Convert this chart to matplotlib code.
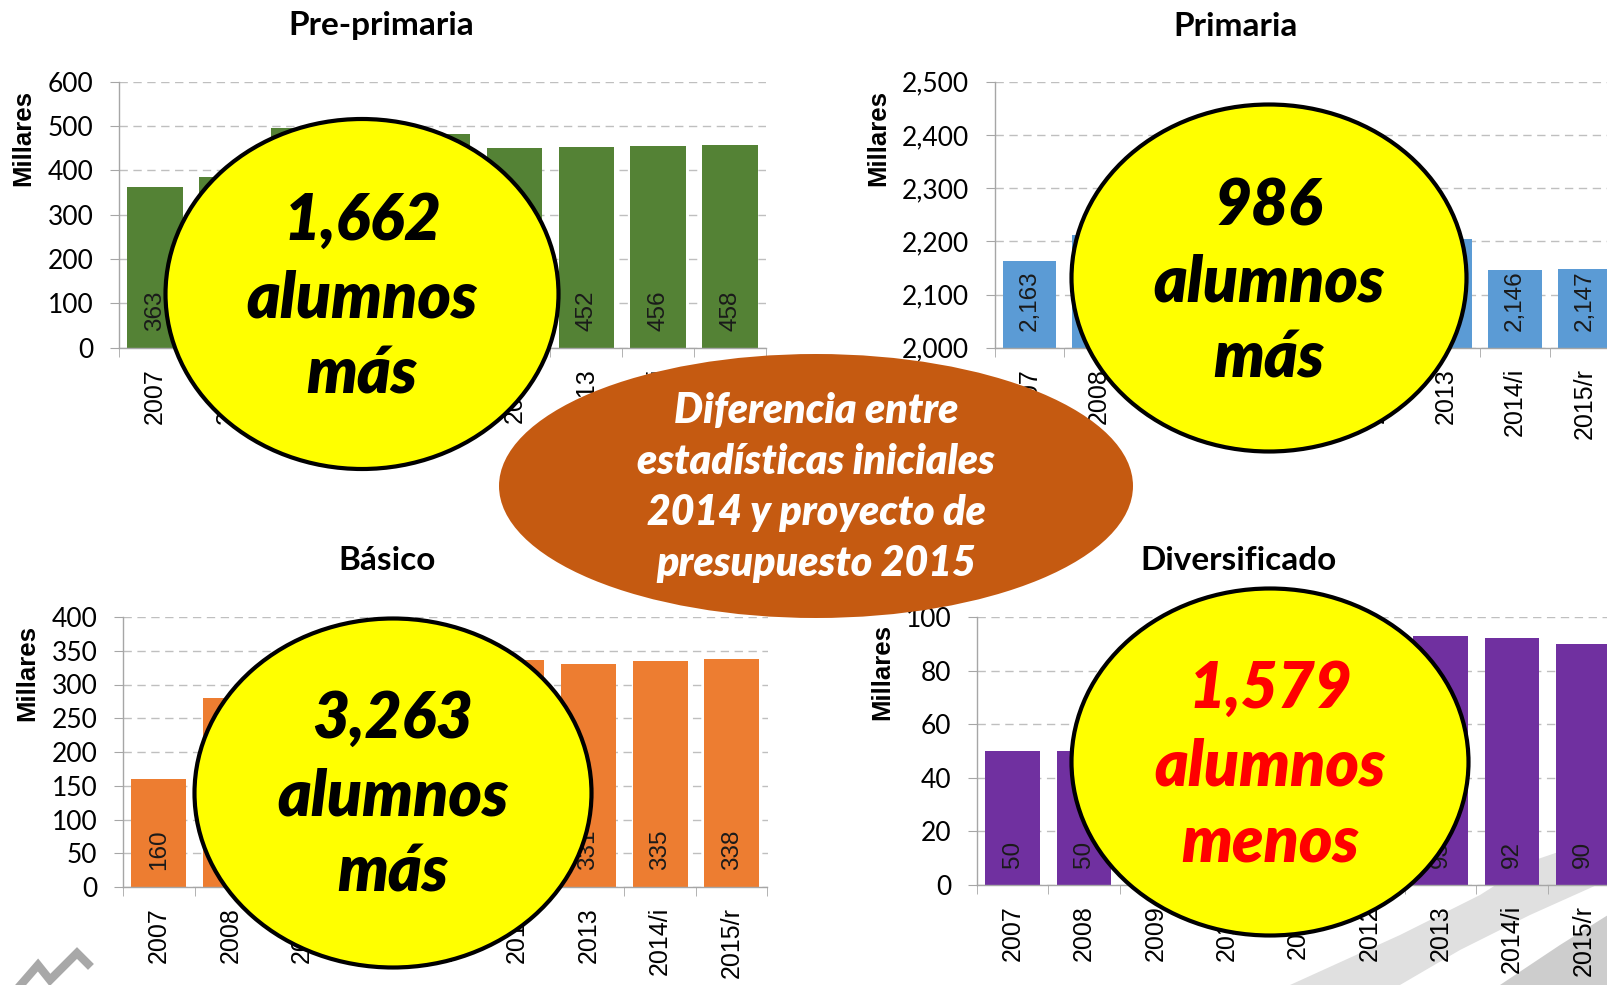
import matplotlib
matplotlib.use('Agg')
import matplotlib.pyplot as plt
from matplotlib.patches import Ellipse, Polygon
from matplotlib.lines import Line2D
from matplotlib.ticker import FuncFormatter, MultipleLocator
import matplotlib.transforms as mtransforms
import numpy as np

W, H = 1608, 985

years = ['2007', '2008', '2009', '2010', '2011', '2012', '2013', '2014/i', '2015/r']

# miles de alumnos
preprimaria = [363, 385, 496, 490, 481, 450, 452, 456, 458]
primaria = [2163, 2211, 2250, 2270, 2280, 2240, 2205, 2146, 2147]
basico = [160, 280, 300, 320, 330, 336, 331, 335, 338]
diversificado = [50, 50, 60, 70, 80, 88, 93, 92, 90]

titles = ['Pre-primaria', 'Primaria', 'Básico', 'Diversificado']
colors = ['#548235', '#5B9BD5', '#ED7D31', '#7030A0']
diferencias = ['1,662', '986', '3,263', '1,579']
sentido = ['más', 'más', 'más', 'menos']
centro = ['Diferencia entre', 'estadísticas iniciales', '2014 y proyecto de', 'presupuesto 2015']


def fx(x):
    return x / W


def fy(y):
    return 1 - y / H


fig = plt.figure(figsize=(W / 100, H / 100), dpi=100)

# left, top, right, bottom in pixels
boxes = [(119, 81.7, 766, 347.7), (995, 81.7, 1619, 347.7),
         (123, 617, 767.5, 887), (977, 617, 1619, 885)]
ylims = [(0, 600, 100), (2000, 2500, 100), (0, 400, 50), (0, 100, 20)]
series = [preprimaria, primaria, basico, diversificado]
title_pos = [(381, 26), (1236, 26), (387, 560), (1239, 560)]
ylab_pos = [(23, 138), (878, 138), (27, 673), (882, 672)]

for k in range(4):
    l, t, r, b = boxes[k]
    ax = fig.add_axes([fx(l), fy(b), (r - l) / W, (b - t) / H])
    ax.set_facecolor('none')
    vals = series[k]
    x = np.arange(len(years))
    ax.bar(x, vals, width=0.77, color=colors[k], zorder=2)
    lo, hi, step = ylims[k]
    ax.set_ylim(lo, hi)
    ax.set_xlim(-0.5, len(years) - 0.5)
    ax.yaxis.set_major_locator(MultipleLocator(step))
    ax.yaxis.set_major_formatter(FuncFormatter(lambda v, p: f'{v:,.0f}'))
    ax.yaxis.grid(True, linestyle=(0, (6, 4)), color='#BFBFBF', lw=1)
    ax.set_axisbelow(True)
    for s in ['top', 'right']:
        ax.spines[s].set_visible(False)
    for s in ['left', 'bottom']:
        ax.spines[s].set_color('#A6A6A6')
        ax.spines[s].set_linewidth(1)
    ax.set_xticks(x)
    ax.set_xticklabels(years, rotation=90, fontsize=18, family='Liberation Sans')
    ax.set_xticks(np.arange(-0.5, len(years)), minor=True)
    ax.tick_params(axis='x', which='major', length=0, pad=14.5)
    ax.tick_params(axis='x', which='minor', length=6.5, color='#A6A6A6')
    ax.tick_params(axis='y', length=6.5, color='#A6A6A6', pad=12)
    for lab in ax.get_yticklabels():
        lab.set_fontfamily('Lato')
        lab.set_fontsize(19)
    trans = mtransforms.blended_transform_factory(ax.transData, ax.transAxes)
    for i, v in enumerate(vals):
        ax.annotate(f'{v:,}', xy=(i, 0), xycoords=trans, xytext=(0, 17),
                    textcoords='offset pixels', rotation=90, ha='center', va='bottom',
                    fontsize=17.5, family='Liberation Sans', color='#1a1a1a')
    fig.text(fx(title_pos[k][0]), fy(title_pos[k][1]), titles[k], ha='center', va='center',
             fontsize=24, family='Lato', weight='bold')
    fig.text(fx(ylab_pos[k][0]), fy(ylab_pos[k][1]), 'Millares', rotation=90, ha='center',
             va='center', fontsize=18.5, family='Liberation Sans', weight='bold')

# background watermark
fig.patches.append(Polygon([(fx(1290), fy(985)), (fx(1400), fy(935)), (fx(1480), fy(895)),
                            (fx(1535), fy(860)), (fx(1608), fy(835)), (fx(1608), fy(880)),
                            (fx(1530), fy(915)), (fx(1460), fy(950)), (fx(1400), fy(985))],
                           closed=True, transform=fig.transFigure,
                           facecolor='#E0E0E0', edgecolor='none', zorder=-1))
fig.patches.append(Polygon([(fx(1500), fy(985)), (fx(1560), fy(945)), (fx(1608), fy(915)),
                            (fx(1608), fy(985))], closed=True, transform=fig.transFigure,
                           facecolor='#CDCDCD', edgecolor='none', zorder=-1))
fig.lines.append(Line2D([fx(18), fx(38), fx(50), fx(77), fx(88)],
                        [fy(988), fy(965), fy(980), fy(953), fy(964)],
                        transform=fig.transFigure, color='#A8A8A8', lw=6,
                        solid_joinstyle='miter', zorder=-1))

# central ellipse
fig.patches.append(Ellipse((fx(816), fy(486)), 634 / W, 264 / H, transform=fig.transFigure,
                           facecolor='#C55A11', edgecolor='none', zorder=1))
for j, line in enumerate(centro):
    fig.text(fx(816), fy(423 + 51 * j), line, ha='center', va='baseline', color='white',
             fontsize=29.5, family='Lato', weight='heavy', style='italic', zorder=4)

# yellow circles
circles = [(362, 294, 393, 350), (1269, 278, 395, 347), (393, 793, 397, 349), (1270, 762, 397, 347)]
baselines = [(240, 317, 394), (225, 302, 378), (738, 815, 892), (708, 785, 862)]
for k in range(4):
    cx, cy, w, h = circles[k]
    fig.patches.append(Ellipse((fx(cx), fy(cy)), w / W, h / H, transform=fig.transFigure,
                               facecolor='#FFFF00', edgecolor='black', lw=3, zorder=2))
    col = 'red' if sentido[k] == 'menos' else 'black'
    for txt, yb in zip([diferencias[k], 'alumnos', sentido[k]], baselines[k]):
        fig.text(fx(cx), fy(yb), txt, ha='center', va='baseline', color=col,
                 fontsize=46, family='Lato', weight='heavy', style='italic', zorder=5)

fig.savefig('out.png', dpi=100)
